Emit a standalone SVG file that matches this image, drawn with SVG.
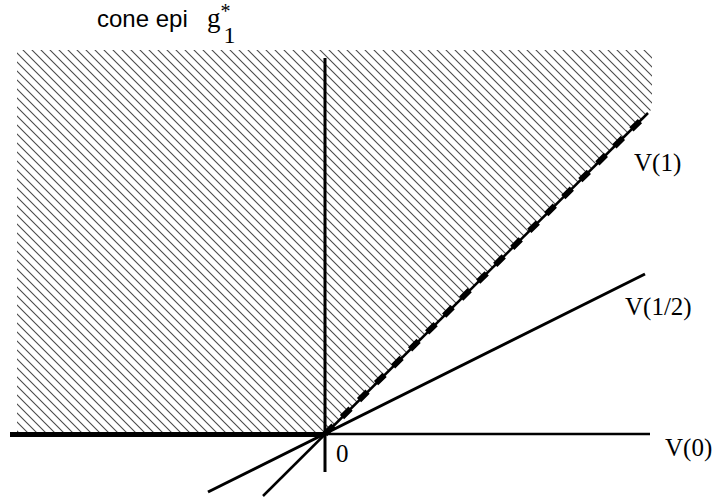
<svg xmlns="http://www.w3.org/2000/svg" width="714" height="498" viewBox="0 0 714 498">
<style>
.lbl{font-family:"Liberation Serif","Times New Roman",serif;font-size:25px;fill:#000}
.ttl{font-family:"Liberation Sans",Arial,sans-serif;font-size:24px;fill:#000}
.ln{stroke:#000;fill:none;stroke-linecap:butt}
</style>
<defs>
<pattern id="hatch" patternUnits="userSpaceOnUse" width="9" height="9">
<path d="M-2,-2 L11,11 M-2,7 L2,11 M7,-2 L11,2" stroke="#4a4a4a" stroke-width="1.1"/>
</pattern>
</defs>
<rect width="714" height="498" fill="#fff"/>
<g id="region">
<polygon points="17,50 652,50 652,109 325,434 17,434" fill="url(#hatch)"/>
</g>
<g id="connectors">
<line class="ln" x1="325" y1="58" x2="325" y2="472" stroke-width="3"/>
<line class="ln" x1="325" y1="434" x2="650" y2="434" stroke-width="2.5"/>
<line class="ln" x1="10" y1="434.5" x2="325" y2="434.5" stroke-width="5"/>
<line class="ln" x1="208" y1="492" x2="645" y2="274" stroke-width="3"/>
<line class="ln" x1="263" y1="496" x2="648" y2="113" stroke-width="2.5"/>
<line class="ln" x1="325" y1="434" x2="648" y2="113" stroke-width="6" stroke-dasharray="12 12"/>
</g>
<g id="labels">
<text class="ttl" x="97" y="27">cone epi</text>
<text class="lbl" x="207" y="27" style="font-size:27px">g<tspan style="font-size:20px" dy="-9">*</tspan><tspan style="font-size:24px" dx="-7" dy="25">1</tspan></text>
<text class="lbl" x="634" y="171">V(1)</text>
<text class="lbl" x="625" y="315">V(1/2)</text>
<text class="lbl" x="665" y="456">V(0)</text>
<text class="lbl" x="336" y="462">0</text>
</g>
</svg>
